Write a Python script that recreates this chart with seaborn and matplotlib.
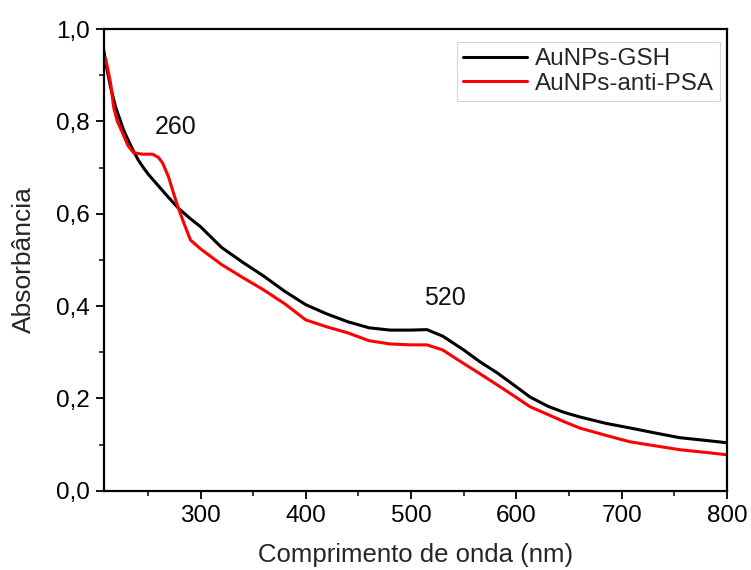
import matplotlib
matplotlib.use("Agg")
import matplotlib.pyplot as plt
import seaborn as sns
import pandas as pd
from matplotlib.ticker import MultipleLocator, FuncFormatter

sns.set_theme(style="ticks")
plt.rcParams['font.family'] = ['Liberation Sans', 'DejaVu Sans']

wl_gsh = [208, 211, 214.6, 219.4, 227, 232, 236.5, 241, 246, 251, 259, 269, 279, 290, 300,
          320, 340, 360, 380, 400, 420, 440, 460, 480, 500, 515, 530, 550, 565, 582, 600,
          613, 630, 645, 660, 685, 708, 730, 755, 780, 800]
abs_gsh = [0.955, 0.915, 0.874, 0.831, 0.781, 0.756, 0.735, 0.716, 0.699, 0.684, 0.663,
           0.637, 0.612, 0.59, 0.572, 0.527, 0.495, 0.465, 0.432, 0.403, 0.383, 0.366,
           0.353, 0.348, 0.348, 0.349, 0.335, 0.305, 0.28, 0.255, 0.225, 0.203, 0.183,
           0.17, 0.16, 0.146, 0.136, 0.126, 0.115, 0.109, 0.104]

wl_psa = [208, 210, 214.6, 217.5, 221, 226, 231, 236.5, 245, 254.5, 260, 264, 269.6, 275,
          279, 285, 290.5, 300, 320, 340, 360, 380, 400, 420, 440, 460, 480, 500, 515, 530,
          549, 565, 582, 600, 613, 630, 645, 660, 685, 708, 730, 755, 780, 800]
abs_psa = [0.94, 0.935, 0.883, 0.831, 0.80, 0.775, 0.748, 0.732, 0.729, 0.729, 0.722, 0.71,
           0.68, 0.64, 0.612, 0.575, 0.543, 0.524, 0.49, 0.462, 0.435, 0.405, 0.37, 0.355,
           0.342, 0.325, 0.318, 0.316, 0.316, 0.305, 0.277, 0.254, 0.229, 0.202, 0.182,
           0.165, 0.15, 0.136, 0.12, 0.106, 0.098, 0.089, 0.083, 0.078]

series_names = ["AuNPs-GSH", "AuNPs-anti-PSA"]
peak_labels = ["260", "520"]
peak_pos = [(276, 0.788), (532, 0.418)]

df = pd.concat([
    pd.DataFrame({"wl": wl_gsh, "A": abs_gsh, "s": series_names[0]}),
    pd.DataFrame({"wl": wl_psa, "A": abs_psa, "s": series_names[1]}),
])

fig = plt.figure(figsize=(7.51, 5.70), dpi=100)
ax = fig.add_axes([0.138, 0.139, 0.830, 0.810])
sns.lineplot(data=df, x="wl", y="A", hue="s", palette=["black", "#ff0000"],
             sort=False, estimator=None, lw=2.2, ax=ax)

ax.set_xlim(208, 800)
ax.set_ylim(0, 1.0)
ax.xaxis.set_major_locator(MultipleLocator(100))
ax.xaxis.set_minor_locator(MultipleLocator(50))
ax.yaxis.set_major_locator(MultipleLocator(0.2))
ax.yaxis.set_minor_locator(MultipleLocator(0.1))
ax.yaxis.set_major_formatter(FuncFormatter(lambda v, p: f"{v:.1f}".replace(".", ",")))
ax.tick_params(which="major", direction="out", length=6, width=1.3, labelsize=17.5,
               colors="black", pad=4)
ax.tick_params(which="minor", direction="out", length=3.5, width=1.3)
for sp in ax.spines.values():
    sp.set_linewidth(1.6)
    sp.set_color("black")

ax.set_xlabel("Comprimento de onda (nm)", fontsize=18.5, labelpad=12)
ax.set_ylabel("Absorbância", fontsize=19, labelpad=14)

for lab, (x, y) in zip(peak_labels, peak_pos):
    ax.text(x, y, lab, fontsize=18, ha="center", va="center", color="#111111")

leg = ax.legend(loc="upper right", bbox_to_anchor=(0.989, 0.972), fontsize=17.5,
                frameon=True, fancybox=False, edgecolor="#cccccc", handlelength=2.6,
                handletextpad=0.35, borderaxespad=0.0, labelspacing=0.1, borderpad=0.25)
leg.get_frame().set_linewidth(0.8)

fig.savefig("out.png", dpi=100)
